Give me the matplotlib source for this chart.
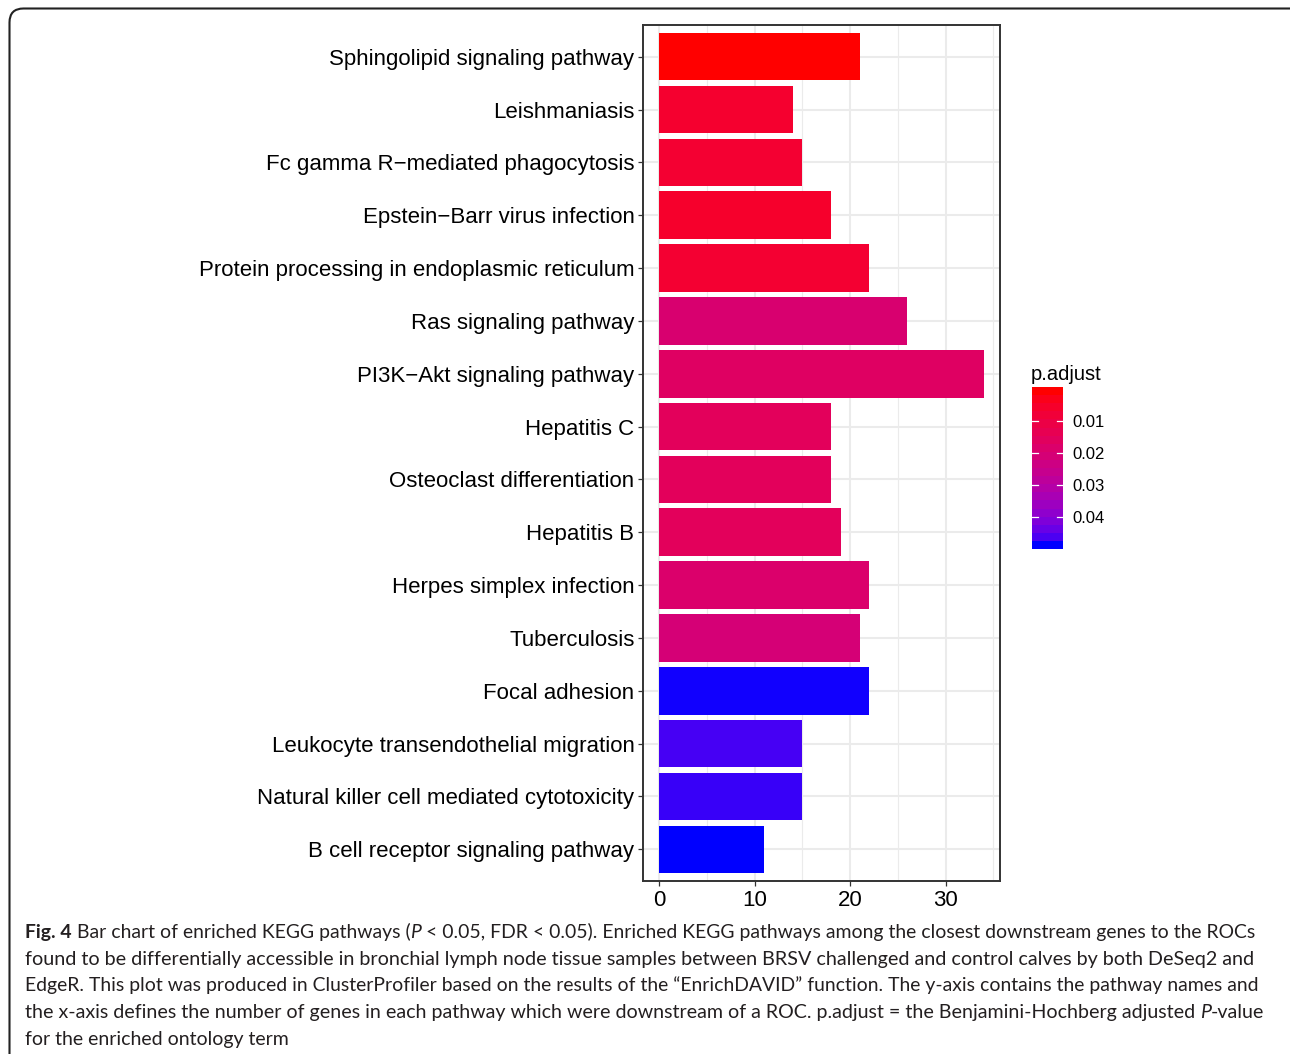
import numpy as np
import matplotlib
matplotlib.use("Agg")
import matplotlib.pyplot as plt
from matplotlib.colors import ListedColormap, Normalize
from matplotlib.patches import FancyBboxPatch
from matplotlib.transforms import IdentityTransform

# ---- data -------------------------------------------------------------
pathways = [
    "Sphingolipid signaling pathway",
    "Leishmaniasis",
    "Fc gamma R\u2212mediated phagocytosis",
    "Epstein\u2212Barr virus infection",
    "Protein processing in endoplasmic reticulum",
    "Ras signaling pathway",
    "PI3K\u2212Akt signaling pathway",
    "Hepatitis C",
    "Osteoclast differentiation",
    "Hepatitis B",
    "Herpes simplex infection",
    "Tuberculosis",
    "Focal adhesion",
    "Leukocyte transendothelial migration",
    "Natural killer cell mediated cytotoxicity",
    "B cell receptor signaling pathway",
]
gene_counts = [21, 14, 15, 18, 22, 26, 34, 18, 18, 19, 22, 21, 22, 15, 15, 11]
p_adjust = [0.00055, 0.0063, 0.0068, 0.0058, 0.0068, 0.0193, 0.0164, 0.0150,
            0.0150, 0.0150, 0.0183, 0.0207, 0.0484, 0.0464, 0.0472, 0.0486]
cbar_ticks = [0.01, 0.02, 0.03, 0.04]
x_ticks = [0, 10, 20, 30]

caption_lines = [
    [("Fig. 4", "bold", "normal"),
     (" Bar chart of enriched KEGG pathways (", "normal", "normal"),
     ("P", "normal", "italic"),
     (" < 0.05, FDR < 0.05). Enriched KEGG pathways among the closest downstream genes to the ROCs",
      "normal", "normal")],
    [("found to be differentially accessible in bronchial lymph node tissue samples between BRSV "
      "challenged and control calves by both DeSeq2 and", "normal", "normal")],
    [("EdgeR. This plot was produced in ClusterProfiler based on the results of the \u201cEnrichDAVID\u201d "
      "function. The y-axis contains the pathway names and", "normal", "normal")],
    [("the x-axis defines the number of genes in each pathway which were downstream of a ROC. "
      "p.adjust = the Benjamini-Hochberg adjusted ", "normal", "normal"),
     ("P", "normal", "italic"),
     ("-value", "normal", "normal")],
    [("for the enriched ontology term", "normal", "normal")],
]


# ---- red -> blue gradient interpolated in CIE Lab ---------------------
def _srgb_to_lab(rgb):
    rgb = np.asarray(rgb, float)
    lin = np.where(rgb <= 0.04045, rgb / 12.92, ((rgb + 0.055) / 1.055) ** 2.4)
    m = np.array([[0.4124, 0.3576, 0.1805],
                  [0.2126, 0.7152, 0.0722],
                  [0.0193, 0.1192, 0.9505]])
    xyz = m @ lin / np.array([0.95047, 1.0, 1.08883])
    f = np.where(xyz > 0.008856, np.cbrt(xyz), 7.787 * xyz + 16 / 116)
    return np.array([116 * f[1] - 16, 500 * (f[0] - f[1]), 200 * (f[1] - f[2])])


def _lab_to_srgb(lab):
    L, a, b = lab
    fy = (L + 16) / 116
    fx = fy + a / 500
    fz = fy - b / 200
    f = np.array([fx, fy, fz])
    xyz = np.where(f ** 3 > 0.008856, f ** 3, (f - 16 / 116) / 7.787)
    xyz = xyz * np.array([0.95047, 1.0, 1.08883])
    m = np.array([[3.2406, -1.5372, -0.4986],
                  [-0.9689, 1.8758, 0.0415],
                  [0.0557, -0.2040, 1.0570]])
    lin = np.clip(m @ xyz, 0, 1)
    rgb = np.where(lin <= 0.0031308, 12.92 * lin, 1.055 * lin ** (1 / 2.4) - 0.055)
    return np.clip(rgb, 0, 1)


lab_lo = _srgb_to_lab([1, 0, 0])
lab_hi = _srgb_to_lab([0, 0, 1])
grad = [_lab_to_srgb(lab_lo + t * (lab_hi - lab_lo)) for t in np.linspace(0, 1, 256)]
cmap = ListedColormap(grad)
pmin, pmax = min(p_adjust), max(p_adjust)
norm = Normalize(pmin, pmax)

# ---- figure -------------------------------------------------------------
W, H = 1290, 1054
fig = plt.figure(figsize=(W / 100, H / 100), dpi=100)
fig.patch.set_facecolor("white")
lab_font = ["Liberation Sans", "DejaVu Sans"]


def fx(px):
    return px / W


def fy(py):
    return 1 - py / H


ax = fig.add_axes([fx(643), fy(881), fx(1000) - fx(643), fy(25) - fy(881)])
ypos = np.arange(len(pathways))
ax.barh(ypos, gene_counts, height=0.9, color=cmap(norm(p_adjust)), zorder=3)
ax.set_xlim(-1.7, 35.7)
ax.set_ylim(len(pathways) - 0.4, -0.6)

ax.set_xticks(x_ticks)
ax.set_xticks([5, 15, 25, 35], minor=True)
ax.set_yticks(ypos)
ax.set_yticklabels(pathways)
ax.set_xticklabels([str(v) for v in x_ticks])
ax.grid(True, which="major", color="#EBEBEB", lw=1.5, zorder=0)
ax.grid(True, which="minor", axis="x", color="#EBEBEB", lw=0.8, zorder=0)
ax.set_axisbelow(True)
ax.tick_params(which="major", length=3.6, width=0.9, color="#333333",
               labelsize=16, labelcolor="black", pad=2.6)
ax.tick_params(which="minor", length=0)
for lbl in ax.get_xticklabels() + ax.get_yticklabels():
    lbl.set_family(lab_font)
for sp in ax.spines.values():
    sp.set_color("#333333")
    sp.set_linewidth(1.4)

# ---- colour bar (20 steps, low values on top) --------------------------
cax = fig.add_axes([fx(1032), fy(549), fx(1063) - fx(1032), fy(387) - fy(549)])
nbin = 20
step = (pmax - pmin) / (nbin - 1)
centers = np.linspace(pmin, pmax, nbin)
edges = np.linspace(pmin - step / 2, pmax + step / 2, nbin + 1)
cax.pcolormesh([0, 1], edges, centers.reshape(-1, 1), cmap=cmap, norm=norm)
cax.set_xlim(0, 1)
cax.set_ylim(edges[-1], edges[0])
for v in cbar_ticks:
    cax.plot([0, 0.2], [v, v], color="white", lw=0.9)
    cax.plot([0.8, 1], [v, v], color="white", lw=0.9)
cax.set_xticks([])
cax.set_yticks(cbar_ticks)
cax.set_yticklabels([f"{v:.2f}" for v in cbar_ticks])
cax.yaxis.tick_right()
cax.tick_params(axis="y", length=0, pad=7, labelsize=12, labelcolor="black")
for lbl in cax.get_yticklabels():
    lbl.set_family(lab_font)
for sp in cax.spines.values():
    sp.set_visible(False)
fig.text(fx(1031), fy(380), "p.adjust", fontsize=14.5, family=lab_font,
         color="black", ha="left", va="baseline")

# ---- outer frame with rounded corner ----------------------------------
frame = FancyBboxPatch((9.5, -60), 1500, H - 8.5 + 60,
                       boxstyle="round,pad=0,rounding_size=14",
                       transform=IdentityTransform(), fill=False,
                       edgecolor="#222222", lw=1.5)
fig.patches.append(frame)

# ---- caption, each line fitted to its width ----------------------------
renderer = fig.canvas.get_renderer()
cap_font = ["Lato", "DejaVu Sans"]
cap_color = "#231F20"


def run_width(txt, size, weight, style):
    t = fig.text(0, 0, txt + "|", fontsize=size, fontweight=weight,
                 fontstyle=style, family=cap_font)
    w1 = t.get_window_extent(renderer).width
    t.set_text("|")
    w2 = t.get_window_extent(renderer).width
    t.remove()
    return w1 - w2


x0 = 25
right_edges = [1254, 1253, 1254, 1263, None]
baselines = [938, 965, 991, 1018, 1045]
base_size = 13.0
sizes = []
for runs, right in zip(caption_lines, right_edges):
    if right is None:
        sizes.append(None)
        continue
    natural = sum(run_width(t, base_size, w, s) for t, w, s in runs)
    sizes.append(base_size * (right - x0) / natural)
mean_size = np.mean([s for s in sizes if s is not None])
sizes = [s if s is not None else mean_size for s in sizes]

for runs, size, base in zip(caption_lines, sizes, baselines):
    x = x0
    for txt, w, s in runs:
        fig.text(fx(x), fy(base), txt, fontsize=size, fontweight=w, fontstyle=s,
                 family=cap_font, color=cap_color, ha="left", va="baseline")
        x += run_width(txt, size, w, s)

fig.savefig("out.png", dpi=100, facecolor="white")
